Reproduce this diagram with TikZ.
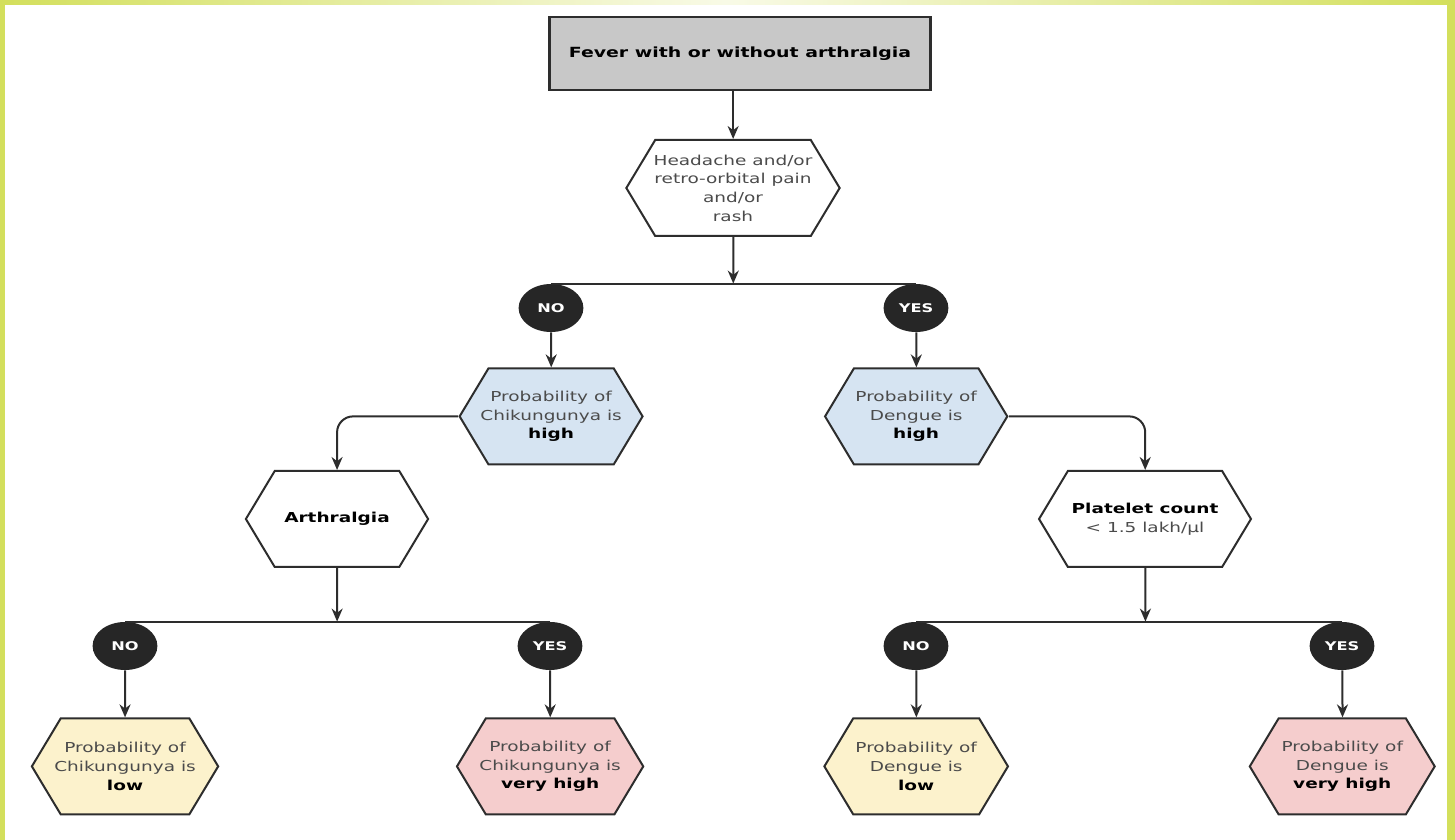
\documentclass[tikz,border=0pt]{standalone}
\usepackage{fontspec}
\setmainfont{DejaVu Sans}
\usetikzlibrary{positioning, shapes.symbols, arrows.meta}
\definecolor{framegreen}{RGB}{211,223,92}
\definecolor{startgray}{RGB}{200,200,200}
\definecolor{highblue}{RGB}{214,228,242}
\definecolor{lowyellow}{RGB}{252,242,204}
\definecolor{vhighpink}{RGB}{245,205,205}
\definecolor{edgegray}{RGB}{45,45,45}
\definecolor{textgray}{RGB}{75,75,75}
\newcommand{\boldword}[1]{\textcolor{black}{\bfseries #1}}

\begin{document}
\begin{tikzpicture}[
            x=0.37037pt, y=-0.5pt, xscale=1.35,
            every node/.append style={transform shape},
            start/.style={rectangle, draw=edgegray, fill=startgray, line width=1.3pt,
                          minimum width=141pt, minimum height=36.5pt, font=\fontsize{7}{9}\selectfont\bfseries},
            hexbox/.style={signal, signal to=east and west, signal pointer angle=132,
                           draw=edgegray, line width=1pt, minimum width=67.5pt, minimum height=48pt,
                           inner xsep=-3pt, inner ysep=1pt, align=center, text=textgray,
                           font=\fontsize{6.85}{9.35}\selectfont},
            answer/.style={circle, fill=black!85, minimum size=24pt, inner sep=0pt,
                           text=white, font=\fontsize{6}{7}\selectfont\bfseries},
            arrow/.style={line width=1pt, draw=edgegray, -{Stealth[length=6.5pt, width=5.5pt]}},
            busline/.style={line width=1pt, draw=edgegray}
        ]
        % frame
        \fill[framegreen] (0,0) rectangle (1455,840);
        \shade[left color=framegreen, right color=framegreen, middle color=framegreen!15] (0,0) rectangle (1455,5);
        \fill[white] (5,5) rectangle (1447,840);

        \node[start] (fever) at (740,53.5) {Fever with or without arthralgia};
        \node[hexbox, fill=white, minimum width=79pt] (symptoms) at (733,188)
            {Headache and/or\\retro-orbital pain\\and/or\\rash};
        \node[answer] (no1) at (551,308) {NO};
        \node[answer] (yes1) at (916,308) {YES};
        \node[hexbox, fill=highblue, below=17.5pt of no1] (chikhigh)
            {Probability of\\Chikungunya is\\\boldword{high}};
        \node[hexbox, fill=highblue, below=17.5pt of yes1] (denhigh)
            {Probability of\\Dengue is\\\boldword{high}};
        \node[hexbox, fill=white] (arth) at (337,519) {\boldword{Arthralgia}};
        \node[hexbox, fill=white, minimum width=78.5pt] (platelet) at (1145,519)
            {\boldword{Platelet count}\\< 1.5 lakh/µl};
        \node[answer] (no2) at (125,646) {NO};
        \node[answer] (yes2) at (550,646) {YES};
        \node[answer] (no3) at (916,646) {NO};
        \node[answer] (yes3) at (1342,646) {YES};
        \node[hexbox, fill=lowyellow, minimum width=69pt, below=23.5pt of no2] (chiklow)
            {Probability of\\Chikungunya is\\\boldword{low}};
        \node[hexbox, fill=vhighpink, minimum width=69pt, below=23.5pt of yes2] (chikvhigh)
            {Probability of\\Chikungunya is\\\boldword{very high}};
        \node[hexbox, fill=lowyellow, minimum width=68pt, below=23.5pt of no3] (denlow)
            {Probability of\\Dengue is\\\boldword{low}};
        \node[hexbox, fill=vhighpink, minimum width=68.5pt, below=23.5pt of yes3] (denvhigh)
            {Probability of\\Dengue is\\\boldword{very high}};

        \coordinate (split1) at (symptoms.south |- no1.north);
        \coordinate (split2) at (arth.south |- no2.north);
        \coordinate (split3) at (platelet.south |- no3.north);

        \draw[arrow] (fever.south -| symptoms.north) -- (symptoms.north);
        \draw[arrow] (symptoms) -- (split1);
        \draw[busline] (no1.north) -- (yes1.north);
        \draw[arrow] (no1) -- (chikhigh);
        \draw[arrow] (yes1) -- (denhigh);
        \draw[arrow, rounded corners=8pt] (chikhigh.west) -| (arth.north);
        \draw[arrow, rounded corners=8pt] (denhigh.east) -| (platelet.north);
        \draw[arrow] (arth) -- (split2);
        \draw[busline] (no2.north) -- (yes2.north);
        \draw[arrow] (platelet) -- (split3);
        \draw[busline] (no3.north) -- (yes3.north);
        \draw[arrow] (no2) -- (chiklow);
        \draw[arrow] (yes2) -- (chikvhigh);
        \draw[arrow] (no3) -- (denlow);
        \draw[arrow] (yes3) -- (denvhigh);
        \end{tikzpicture}
\end{document}
